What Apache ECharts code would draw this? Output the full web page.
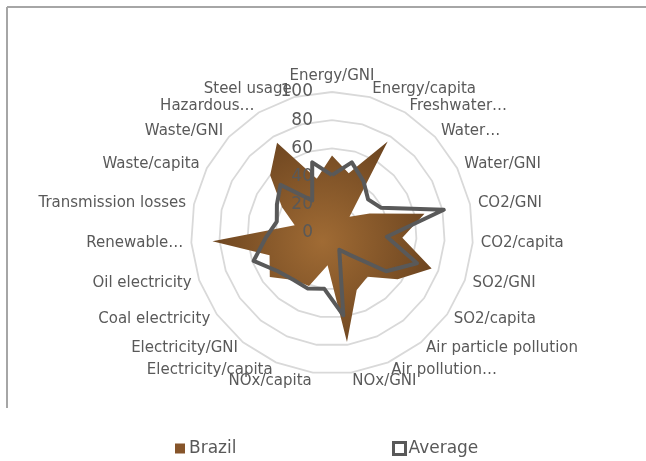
<!DOCTYPE html>
<html><head><meta charset="utf-8">
<script src="https://cdn.jsdelivr.net/npm/echarts@6/dist/echarts.min.js"></script>
<style>html,body{margin:0;padding:0;background:#fff}#c{width:646px;height:461px}</style>
</head><body><div id="c"></div>
<script>
// Indicators in clockwise order starting at top
const categories = ["Energy/GNI","Energy/capita","Freshwater…","Water…","Water/GNI","CO2/GNI","CO2/capita","SO2/GNI","SO2/capita","Air particle pollution","Air pollution…","NOx/GNI","NOx/capita","Electricity/capita","Electricity/GNI","Coal electricity","Oil electricity","Renewable…","Transmission losses","Waste/capita","Waste/GNI","Hazardous…","Steel usage"];
const brazil  = [55,44,76,17,30,67,50,75,57,40,44,78,23,41,43,54,47,85,27,40,60,75,40];
const average = [41,52,43,35,39,81,39,64,47,20,13,59,40,43,43,47,59,47,40,44,50,27,52];
const tickLabels = [0,20,40,60,80,100];

// ECharts radar runs counter-clockwise: reorder to get clockwise layout
const order = [0]; for (let i = categories.length - 1; i >= 1; i--) order.push(i);
const pick = arr => order.map(i => arr[i]);

const FONT = 'DejaVu Sans';
const TXT = '#595959';
const chart = echarts.init(document.getElementById('c'), null, {renderer:'canvas'});
chart.setOption({
  animation:false,
  backgroundColor:'#fff',
  graphic:[
    {type:'line', shape:{x1:7,y1:7,x2:646,y2:7}, style:{stroke:'#a6a6a6', lineWidth:2}, silent:true},
    {type:'line', shape:{x1:7,y1:7,x2:7,y2:408}, style:{stroke:'#a6a6a6', lineWidth:2}, silent:true}
  ],
  legend:[
    {data:['Brazil'], left:175, top:440, padding:0, itemWidth:10, itemHeight:10, itemGap:4,
     icon:'rect', textStyle:{color:TXT, fontSize:17, fontFamily:FONT, padding:[0,0,0,-1]},
     itemStyle:{color:'#86552a'}},
    {data:['Average'], left:392, top:440, padding:0, itemWidth:12, itemHeight:12, itemGap:4,
     icon:'rect', textStyle:{color:TXT, fontSize:17, fontFamily:FONT, padding:[0,0,0,-2]},
     itemStyle:{color:'#ffffff', borderColor:'#595959', borderWidth:3}}
  ],
  radar:{
    center:[332,233], radius:141, startAngle:90, splitNumber:5, shape:'polygon',
    nameGap:8,
    axisName:{color:TXT, fontSize:15, fontFamily:FONT},
    indicator: pick(categories).map(n => ({name:n, min:0, max:100})),
    splitLine:{lineStyle:{color:'#d9d9d9', width:1.8}},
    splitArea:{show:false},
    axisLine:{show:false},
    axisTick:{show:false},
    axisLabel:{show:false}
  },
  polar:{center:[332,233], radius:141},
  angleAxis:{show:false, type:'value', min:0, max:360, startAngle:90},
  radiusAxis:{type:'value', min:tickLabels[0], max:tickLabels[tickLabels.length-1], interval:20,
    axisLine:{show:false}, axisTick:{show:false}, splitLine:{show:false},
    axisLabel:{color:TXT, fontSize:17, fontFamily:FONT, margin:19}, z:10},
  series:[{
    type:'radar', symbol:'none', z:2,
    data:[
      {name:'Brazil', value:pick(brazil),
       lineStyle:{width:0},
       itemStyle:{color:'#86552a'},
       areaStyle:{opacity:1, color:new echarts.graphic.RadialGradient(0.5,0.5,0.6,[
         {offset:0,color:'#a06b34'},{offset:1,color:'#6a431f'}])}},
      {name:'Average', value:pick(average),
       itemStyle:{color:'#595959'},
       lineStyle:{color:'#595959', width:4}}
    ]
  }]
});
</script></body></html>
